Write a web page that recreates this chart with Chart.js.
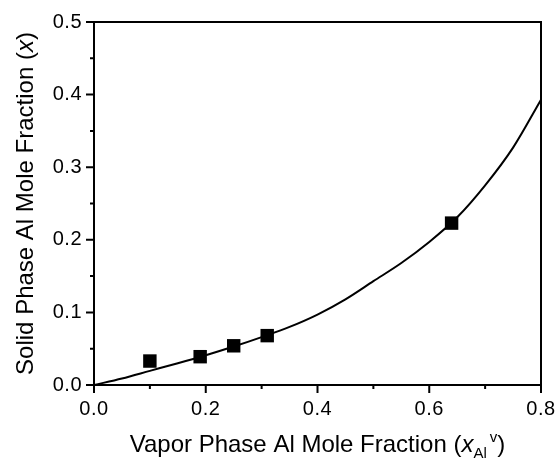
<!DOCTYPE html>
<html>
<head>
<meta charset="utf-8">
<script src="https://cdn.jsdelivr.net/npm/chart.js@4/dist/chart.umd.min.js"></script>
<style>
  html, body { margin: 0; padding: 0; background: #fff; }
  #wrap { width: 557px; height: 459px; position: relative; }
</style>
</head>
<body>
<div id="wrap"><canvas id="chart"></canvas></div>
<script>
// measured points
const vaporX = [0.10, 0.19, 0.25, 0.31, 0.64];
const solidX = [0.033, 0.039, 0.054, 0.068, 0.223];

// model curve
const curveX = [0, 0.05, 0.1, 0.15, 0.2, 0.25, 0.3, 0.35, 0.4, 0.45, 0.5, 0.55, 0.6, 0.65, 0.7, 0.75, 0.8];
const curveY = [0, 0.009, 0.0195, 0.030, 0.041, 0.053, 0.066, 0.080, 0.097, 0.118, 0.143, 0.168, 0.197, 0.231, 0.275, 0.327, 0.393];

const xTicks = [0, 0.2, 0.4, 0.6, 0.8];
const yTicks = [0, 0.1, 0.2, 0.3, 0.4, 0.5];
const xMinor = [0.1, 0.3, 0.5, 0.7];
const yMinor = [0.05, 0.15, 0.25, 0.35, 0.45];

const FONT = "'Liberation Sans', Arial, sans-serif";

// frame, ticks and axis titles
const framePlugin = {
  id: "frame",
  beforeDraw(chart) {
    chart.ctx.letterSpacing = "0.5px";
  },
  afterDraw(chart) {
    const { ctx, chartArea: a, scales } = chart;
    const xs = scales.x, ys = scales.y;
    ctx.save();
    ctx.letterSpacing = "0px";
    ctx.strokeStyle = "#000";
    ctx.lineWidth = 2;
    ctx.strokeRect(a.left, a.top, a.right - a.left, a.bottom - a.top);

    ctx.beginPath();
    xTicks.forEach(v => { const p = xs.getPixelForValue(v); ctx.moveTo(p, a.bottom); ctx.lineTo(p, a.bottom + 8); });
    xMinor.forEach(v => { const p = xs.getPixelForValue(v); ctx.moveTo(p, a.bottom); ctx.lineTo(p, a.bottom + 4); });
    yTicks.forEach(v => { const p = ys.getPixelForValue(v); ctx.moveTo(a.left, p); ctx.lineTo(a.left - 8, p); });
    yMinor.forEach(v => { const p = ys.getPixelForValue(v); ctx.moveTo(a.left, p); ctx.lineTo(a.left - 4, p); });
    ctx.stroke();

    ctx.fillStyle = "#000";
    ctx.textBaseline = "alphabetic";

    // y title
    const yParts = [["Solid Phase Al Mole Fraction (", ""], ["x", "italic "], [")", ""]];
    ctx.save();
    ctx.translate(33, (a.top + a.bottom) / 2);
    ctx.rotate(-Math.PI / 2);
    let w = 0;
    yParts.forEach(([t, s]) => { ctx.font = s + "24px " + FONT; w += ctx.measureText(t).width; });
    let cx = -w / 2;
    yParts.forEach(([t, s]) => { ctx.font = s + "24px " + FONT; ctx.fillText(t, cx, 0); cx += ctx.measureText(t).width; });
    ctx.restore();

    // x title
    const base = 452;
    ctx.font = "24px " + FONT;
    const t1 = "Vapor Phase Al Mole Fraction (";
    const w1 = ctx.measureText(t1).width;
    const w5 = ctx.measureText(")").width;
    ctx.font = "italic 24px " + FONT;
    const w2 = ctx.measureText("x").width;
    ctx.font = "15px " + FONT;
    const w3 = ctx.measureText("Al").width;
    const w4 = ctx.measureText("v").width;
    const total = w1 + w2 + w3 + 3 + w4 + w5;
    let x0 = (a.left + a.right) / 2 - total / 2;
    ctx.font = "24px " + FONT;
    ctx.fillText(t1, x0, base); x0 += w1;
    ctx.font = "italic 24px " + FONT;
    ctx.fillText("x", x0, base); x0 += w2;
    ctx.font = "15px " + FONT;
    ctx.fillText("Al", x0, base + 6); x0 += w3 + 3;
    ctx.fillText("v", x0, base - 10); x0 += w4;
    ctx.font = "24px " + FONT;
    ctx.fillText(")", x0, base);
    ctx.restore();
  }
};

new Chart(document.getElementById("chart"), {
  type: "scatter",
  data: {
    datasets: [
      {
        label: "model",
        data: curveX.map((x, i) => ({ x, y: curveY[i] })),
        showLine: true,
        borderColor: "#000",
        borderWidth: 2,
        pointRadius: 0,
        cubicInterpolationMode: "monotone"
      },
      {
        label: "data",
        data: vaporX.map((x, i) => ({ x, y: solidX[i] })),
        pointStyle: "rect",
        pointRadius: 9.5,
        backgroundColor: "#000",
        borderColor: "#000",
        borderWidth: 0
      }
    ]
  },
  options: {
    responsive: true,
    maintainAspectRatio: false,
    animation: false,
    layout: { padding: { left: 0, right: 16, top: 22, bottom: 0 } },
    plugins: { legend: { display: false }, tooltip: { enabled: false } },
    scales: {
      x: {
        type: "linear",
        min: 0,
        max: 0.8,
        afterFit(s) { s.height = 74; s.paddingLeft = 0; s.paddingRight = 0; },
        afterBuildTicks(s) { s.ticks = xTicks.map(v => ({ value: v })); },
        grid: { display: false, drawTicks: false },
        border: { display: false },
        ticks: {
          padding: 12,
          color: "#000",
          font: { family: FONT, size: 20 },
          callback: v => v.toFixed(1)
        }
      },
      y: {
        type: "linear",
        min: 0,
        max: 0.5,
        afterFit(s) { s.width = 94; s.paddingTop = 0; s.paddingBottom = 0; },
        afterBuildTicks(s) { s.ticks = yTicks.map(v => ({ value: v })); },
        grid: { display: false, drawTicks: false },
        border: { display: false },
        ticks: {
          padding: 12,
          color: "#000",
          font: { family: FONT, size: 20 },
          callback: v => v.toFixed(1)
        }
      }
    }
  },
  plugins: [framePlugin]
});
</script>
</body>
</html>
